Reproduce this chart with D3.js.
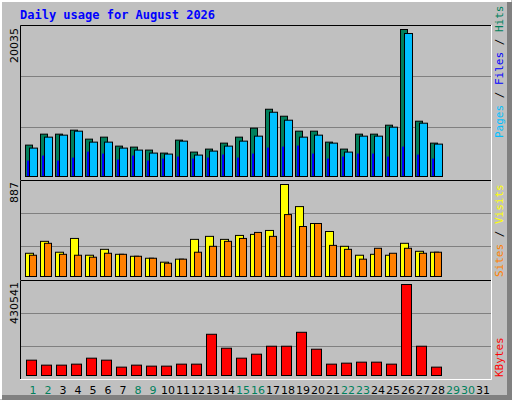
<!DOCTYPE html><html><head><meta charset="utf-8">
<script src="https://d3js.org/d3.v7.min.js"></script>
<style>body{margin:0;background:#fff}</style></head><body><svg id="c" width="512" height="400"></svg>
<script>
const days=d3.range(1,32);
const weekend=[1,2,8,9,15,16,22,23,29,30];
const hits=[4278,5772,5772,6315,5093,5364,4142,4006,3599,3191,4957,3327,3735,4549,5364,6586,9167,8216,6179,6179,4685,3735,5772,5772,6994,20035,7537,4549];
const files=[3870,5364,5636,6179,4685,4685,3870,3599,3191,3056,4821,2920,3463,4142,4821,5500,8759,7673,5364,5636,4549,3327,5500,5500,6722,19488,7265,4414];
const pages=[2105,2784,2105,2512,3327,3056,2241,2784,2105,2377,2648,2377,2512,2920,2512,3056,3870,4006,4142,3056,2377,2648,3056,3056,2648,4006,2920,2377];
const visits=[224,339,234,367,205,262,214,195,176,138,167,358,387,358,396,406,444,887,674,511,434,291,205,214,205,320,243,234];
const sites=[205,320,214,205,186,224,214,195,176,128,167,234,291,339,367,425,387,597,482,511,300,262,167,272,224,272,224,234];
const kbytes=[72549,48994,48994,53705,81971,72549,39572,48994,44283,44283,53705,53705,195035,129081,81971,100815,138503,138503,204457,124370,53705,58416,63127,63127,53705,430541,138503,39572];
const svg=d3.select("#c");
svg.append("rect").attr("width",512).attr("height",400).attr("fill","#c0c0c0");
svg.append("path").attr("d","M0.5,399V0.5H511").attr("stroke","#fff").attr("stroke-width",3).attr("fill","none");
svg.append("path").attr("d","M2,397.5H509.5V2").attr("stroke","#808080").attr("stroke-width",5).attr("fill","none");
svg.append("text").attr("x",20).attr("y",19).text("Daily usage for August 2026")
 .attr("font-family","DejaVu Sans Mono").attr("font-weight","bold").attr("font-size",12).attr("fill","#0000ff");
const x=d3.scaleLinear().domain([1,32]).range([20,485]);
function frame(t,b){
 svg.append("path").attr("d",`M20.5,${b}V${t}.5H491`).attr("stroke","#000").attr("fill","none");
 svg.append("path").attr("d",`M491.5,${t}V${b}.5H20`).attr("stroke","#fff").attr("fill","none");
}
function grid(ys){ys.forEach(y=>svg.append("line").attr("x1",21).attr("x2",491).attr("y1",y+.5).attr("y2",y+.5).attr("stroke","#808080"));}
function bars(data,y,off,w,color){
 svg.append("g").selectAll("rect").data(data).join("rect")
  .attr("x",(d,i)=>x(i+1)+off+.5).attr("width",w).attr("y",d=>y(d)+.5).attr("height",d=>y(0)-y(d))
  .attr("fill",color).attr("stroke","#000");
}
function ylab(txt,yy){svg.append("text").attr("transform",`translate(18,${yy}) rotate(-90)`).attr("text-anchor","end")
 .attr("font-family","DejaVu Sans").attr("font-size",11).text(txt);}
function rlab(parts,yb){const t=svg.append("text").attr("transform",`translate(503,${yb}) rotate(-90)`)
 .attr("font-family","DejaVu Sans Mono").attr("font-size",11);
 parts.forEach(p=>t.append("tspan").attr("fill",p[1]).text(p[0]));}
// panel 1
const y1=d3.scaleLinear().domain([0,20035]).range([176,29]);
grid([76,127]);
bars(hits,y1,5,7,"#00805c");
bars(files,y1,9,8,"#00c0ff");
svg.append("g").selectAll("rect").data(pages).join("rect").attr("x",(d,i)=>x(i+1)+7).attr("width",2)
 .attr("y",d=>y1(d)).attr("height",d=>y1(0)-y1(d)).attr("fill","#0000ff");
frame(25,180);
ylab("20035",28);
rlab([["Pages","#00c0ff"],[" / ","#000"],["Files","#0000ff"],[" / ","#000"],["Hits","#00805c"]],138);
// panel 2
const y2=d3.scaleLinear().domain([0,887]).range([276,184]);
grid([213,246]);
bars(visits,y2,5,8,"#ffff00");
bars(sites,y2,9,7,"#ff8000");
frame(180,280);
ylab("887",182);
rlab([["Sites","#ff8000"],[" / ","#000"],["Visits","#ffff00"]],277);
// panel 3
const y3=d3.scaleLinear().domain([0,430541]).range([375,284]);
grid([313,346]);
bars(kbytes,y3,6,10,"#ff0000");
frame(280,379);
ylab("430541",282);
rlab([["KBytes","#ff0000"]],377);
svg.append("g").selectAll("text").data(days).join("text").attr("x",d=>x(d)+13).attr("y",394)
 .attr("text-anchor","middle").attr("font-family","DejaVu Sans").attr("font-size",11)
 .attr("fill",d=>weekend.includes(d)?"#00805c":"#000").text(d=>d);
</script></body></html>
